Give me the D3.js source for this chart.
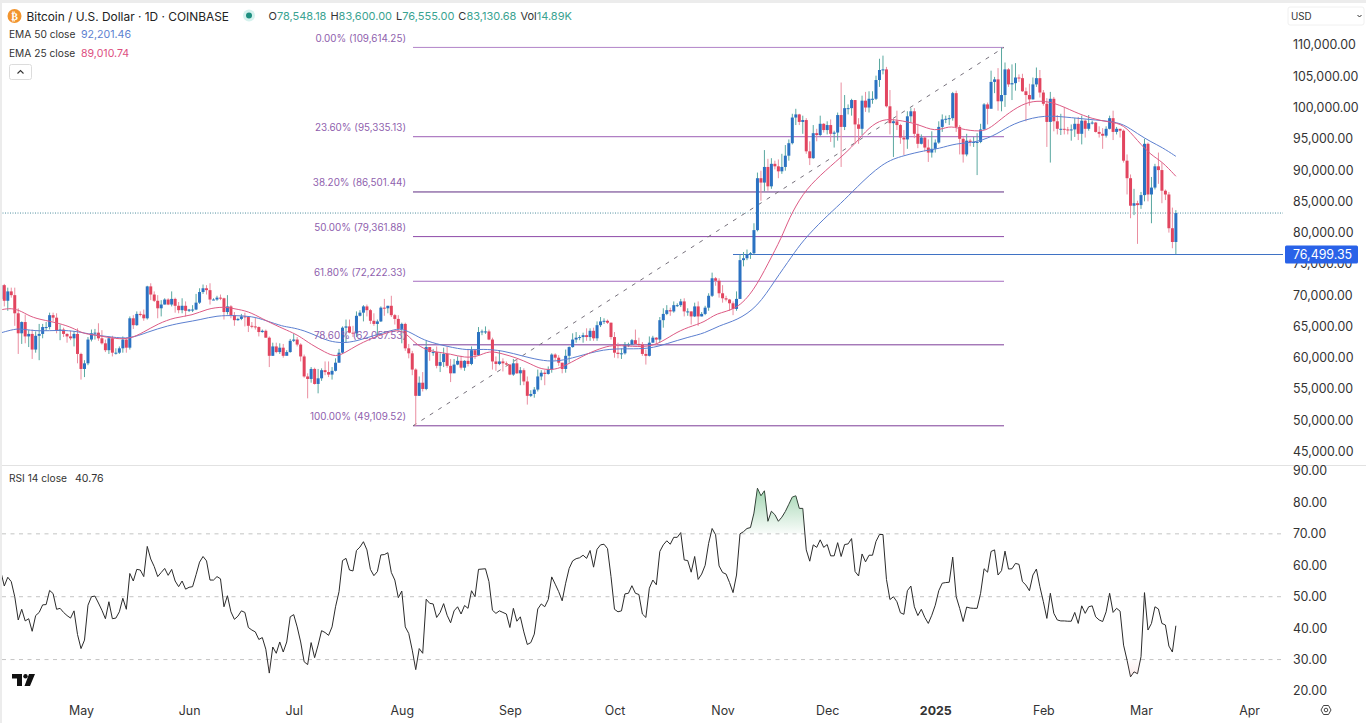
<!DOCTYPE html>
<html lang="en">
<head>
<meta charset="UTF-8">
<title>Bitcoin / U.S. Dollar</title>
<script src="https://d3js.org/d3.v7.min.js"></script>
<style>
  html, body { margin: 0; padding: 0; background: #fff; overflow: hidden; }
  svg { display: block; font-family: Inter, "Noto Sans", sans-serif; }
  .axis text { font-family: Inter, "Noto Sans", sans-serif; font-size: 12.4px; fill: #333; }
  .axis path, .axis line { display: none; }
</style>
</head>
<body>
<svg id="chart" width="1366" height="723"></svg>
<script>
// daily candles in thousands of USD, first row starts 8 Apr 2024
const firstDay = "2024-04-08";
const firstOpen = 69.4;

const closes = [
  71.6, 69.1, 70.6, 70.0, 67.1, 63.9, 65.7, 63.4, 63.8, 61.3, 63.5, 63.8, 64.9, 64.9, 66.8, 66.4, 64.3, 64.5, 63.8, 63.4, 63.1, 63.8, 60.6,
  58.2, 59.1, 62.9, 63.9, 64.0, 63.1, 62.3, 61.2, 63.1, 60.8, 60.8, 61.5, 62.9, 61.6, 66.3, 65.2, 67.0, 66.9, 66.3, 71.4, 70.1, 69.1, 67.9, 68.5, 69.3, 68.5, 69.4, 68.3, 67.6, 68.3, 67.5,
  67.7, 67.7, 68.8, 70.5, 71.1, 70.8, 69.3, 69.3, 69.6, 69.5, 67.3, 68.2, 66.8, 66.0, 66.2, 66.6, 66.5, 65.1, 65.0, 64.9, 64.1, 64.3, 63.2, 60.3, 61.8, 60.9, 61.6, 60.3, 60.9, 62.7,
  62.9, 62.1, 60.2, 57.0, 56.6, 58.2, 55.8, 56.7, 58.0, 57.7, 57.3, 57.9, 59.2, 60.8, 64.8, 65.0, 64.0, 63.9, 66.7, 67.2, 68.2, 67.6, 65.9, 65.4, 65.8, 68.0, 67.9, 68.3, 66.8, 66.2, 64.6,
  65.4, 61.5, 60.7, 58.1, 53.9, 56.0, 55.0, 61.7, 60.9, 60.9, 58.7, 59.3, 60.6, 58.7, 57.5, 58.9, 59.5, 58.4, 59.5, 59.0, 61.2, 60.4, 64.1, 64.2, 64.2, 62.9, 59.4, 59.0, 59.4, 59.1, 58.9,
  57.3, 59.1, 57.5, 58.0, 56.2, 53.9, 54.2, 54.9, 57.0, 57.6, 57.4, 58.1, 60.5, 60.0, 59.2, 58.2, 60.3, 61.7, 62.9, 63.2, 63.3, 63.6, 63.3, 64.3, 63.1, 65.2, 65.8, 65.9, 65.6, 63.3,
  60.8, 60.6, 60.7, 62.1, 62.1, 62.8, 62.2, 62.1, 60.6, 60.3, 62.4, 63.2, 62.9, 66.0, 67.0, 67.6, 67.4, 68.4, 68.4, 69.0, 67.4, 67.4, 66.6, 68.2, 66.6, 67.0, 68.0, 69.9, 72.7, 72.3, 70.3,
  69.5, 69.3, 68.7, 67.8, 69.4, 75.6, 75.9, 76.5, 76.7, 80.4, 88.7, 88.0, 90.5, 87.4, 91.0, 90.6, 89.8, 90.5, 92.3, 94.3, 98.4, 98.9, 97.7, 98.0, 93.0, 91.9, 95.9, 95.6, 97.4, 96.4,
  97.2, 95.8, 96.0, 98.8, 96.9, 99.9, 99.9, 101.2, 97.3, 96.6, 101.1, 100.0, 101.4, 101.4, 104.4, 106.0, 106.1, 100.2, 97.5, 97.8, 97.2, 95.2, 94.9, 98.6, 99.4, 95.8, 94.2, 95.2, 93.6, 92.8, 93.4,
  94.4, 96.9, 98.1, 98.2, 98.3, 102.3, 96.9, 95.0, 92.5, 94.7, 94.5, 94.5, 94.5, 96.5, 100.5, 99.8, 104.1, 104.5, 101.0, 102.0, 106.1, 103.7, 103.9, 104.8, 104.7, 102.6, 102.0, 101.3, 103.7, 104.7, 102.4,
  100.6, 97.7, 101.4, 97.8, 96.6, 96.6, 96.5, 96.4, 96.5, 97.4, 95.8, 97.9, 96.6, 97.5, 97.6, 96.1, 95.8, 95.5, 96.6, 98.3, 96.1, 96.6, 96.3, 91.5, 88.7, 84.3, 84.7, 84.4,
  86.0, 94.2, 86.1, 87.2, 90.6, 90.0, 86.7, 86.1, 80.7, 78.5, 83.13
];

const highs = [
  72.8, 71.8, 71.2, 71.2, 71.2, 67.9, 65.8, 66.9, 64.4, 64.5, 64.2, 65.4, 65.4, 65.7, 67.2, 67.2, 67.1, 65.3, 64.8, 63.9, 64.3, 64.2, 64.7,
  60.8, 59.6, 63.3, 64.5, 64.6, 65.5, 64.4, 62.9, 63.4, 63.5, 61.5, 61.8, 63.4, 63.1, 66.6, 66.8, 67.4, 67.4, 67.7, 71.5, 71.9, 70.6, 70.0, 69.2, 69.5, 69.5, 70.6, 69.6, 68.9, 69.5, 69.0,
  67.8, 68.4, 70.2, 71.1, 71.7, 71.6, 71.9, 69.5, 69.9, 70.1, 69.6, 70.0, 68.4, 67.3, 66.4, 67.0, 67.2, 66.6, 65.7, 66.4, 65.0, 64.5, 64.5, 63.4, 62.4, 62.4, 62.3, 62.2, 61.2, 63.0,
  63.8, 63.3, 62.3, 60.5, 57.5, 58.5, 58.4, 58.2, 58.3, 59.4, 59.4, 58.5, 59.9, 61.4, 65.0, 66.1, 66.1, 65.1, 67.4, 67.6, 68.4, 68.5, 67.8, 67.1, 66.1, 68.2, 69.4, 68.3, 69.9, 67.0, 66.8,
  65.6, 65.6, 62.2, 61.1, 58.3, 57.0, 57.7, 62.7, 61.7, 61.4, 61.8, 60.7, 61.6, 61.8, 59.8, 59.8, 60.2, 60.3, 59.6, 61.4, 61.8, 61.4, 64.9, 64.5, 65.0, 64.5, 63.2, 60.2, 61.2, 59.9, 59.4,
  59.0, 59.8, 59.8, 58.5, 58.3, 57.0, 54.8, 55.3, 58.1, 58.0, 58.0, 58.6, 60.7, 60.7, 60.4, 59.2, 61.3, 61.8, 63.9, 64.1, 63.6, 64.0, 64.7, 64.7, 64.8, 65.8, 66.5, 66.3, 66.1, 65.6,
  64.1, 62.4, 61.5, 62.5, 62.4, 63.0, 64.5, 63.2, 62.5, 61.3, 63.4, 63.5, 63.3, 66.5, 67.9, 68.4, 68.0, 69.0, 68.7, 69.4, 69.5, 67.9, 67.4, 68.8, 69.0, 67.3, 68.3, 70.3, 73.6, 72.9, 72.7,
  71.6, 69.9, 69.4, 69.0, 70.6, 76.5, 76.9, 77.3, 76.9, 81.5, 89.6, 89.9, 93.2, 91.8, 91.9, 91.5, 91.7, 92.6, 94.0, 94.9, 99.0, 99.8, 99.0, 98.7, 98.3, 94.6, 97.2, 96.6, 98.7, 97.5,
  97.8, 98.1, 96.3, 99.2, 104.0, 102.0, 100.5, 101.4, 101.2, 98.3, 101.9, 102.5, 102.6, 102.6, 105.1, 107.8, 108.3, 106.5, 102.8, 98.1, 99.5, 97.4, 96.4, 99.4, 99.9, 99.9, 97.4, 95.7, 95.4, 94.9, 96.2,
  94.9, 97.8, 98.9, 98.7, 98.8, 102.5, 102.7, 97.2, 95.3, 95.8, 95.0, 95.3, 95.9, 97.4, 100.7, 100.8, 105.9, 104.9, 106.3, 109.6, 107.2, 106.3, 106.9, 107.1, 105.3, 105.4, 103.2, 103.8, 104.8, 106.4, 106.0,
  102.8, 101.5, 102.5, 101.7, 98.8, 99.0, 100.1, 96.9, 97.3, 98.3, 98.5, 98.7, 98.1, 98.8, 97.9, 97.7, 97.0, 96.7, 97.0, 98.7, 99.5, 96.9, 96.6, 96.5, 92.5, 89.3, 87.0, 85.1,
  86.5, 95.0, 94.4, 88.9, 91.0, 92.8, 91.2, 86.9, 86.5, 84.0, 83.6
];

const lows = [
  69.0, 68.2, 67.5, 69.6, 65.1, 60.6, 62.2, 62.3, 61.7, 59.8, 60.8, 59.6, 63.1, 64.3, 64.5, 65.8, 63.9, 62.8, 63.3, 62.4, 62.8, 61.8, 59.1,
  56.5, 56.9, 58.8, 62.6, 62.9, 62.7, 62.1, 60.9, 60.6, 60.2, 60.5, 60.6, 60.8, 60.8, 61.3, 64.6, 65.1, 66.6, 65.9, 66.1, 69.2, 68.9, 66.3, 66.6, 68.5, 68.4, 68.2, 67.2, 67.1, 67.1, 66.6,
  67.3, 67.3, 67.6, 68.6, 70.2, 70.1, 68.5, 69.2, 69.1, 69.2, 66.1, 66.9, 66.3, 65.1, 65.9, 66.0, 65.0, 64.1, 64.7, 64.5, 63.4, 64.0, 63.2, 58.5, 60.3, 60.7, 60.6, 60.0, 60.4, 60.8,
  62.5, 61.8, 59.4, 56.8, 53.5, 56.0, 55.7, 54.3, 56.3, 57.2, 56.9, 56.5, 57.8, 59.2, 60.6, 62.4, 63.9, 63.3, 63.3, 66.6, 65.8, 66.6, 65.4, 65.1, 63.4, 65.7, 66.7, 67.1, 66.5, 65.3, 64.5,
  62.3, 61.1, 59.9, 57.2, 49.1, 53.9, 54.6, 54.8, 59.5, 60.3, 58.3, 57.7, 58.5, 58.4, 56.1, 57.8, 58.8, 58.1, 57.9, 58.6, 58.8, 59.8, 60.4, 63.6, 63.8, 62.8, 58.1, 57.9, 58.8, 57.8, 58.7,
  57.2, 57.1, 57.4, 55.6, 55.6, 52.5, 53.7, 53.6, 54.6, 56.4, 55.6, 57.3, 57.6, 59.5, 58.7, 57.5, 57.6, 59.2, 61.6, 62.4, 62.8, 62.4, 62.7, 62.7, 62.7, 62.7, 64.9, 65.4, 65.4, 62.9,
  60.0, 59.9, 59.8, 60.5, 61.7, 62.0, 62.1, 61.8, 60.3, 58.9, 60.2, 62.4, 62.0, 62.4, 64.8, 66.8, 66.7, 67.2, 68.1, 68.1, 66.6, 66.7, 65.3, 66.5, 65.1, 66.6, 66.8, 67.5, 69.7, 71.5, 69.6,
  68.8, 69.0, 67.5, 66.8, 67.5, 69.4, 74.6, 75.6, 75.8, 76.5, 80.2, 85.1, 86.6, 86.7, 87.0, 90.1, 88.7, 89.4, 89.9, 91.5, 94.1, 97.2, 97.2, 95.8, 92.6, 90.8, 91.8, 94.6, 95.4, 96.0,
  95.7, 94.5, 93.6, 94.7, 90.5, 96.4, 98.9, 98.7, 94.2, 94.2, 95.6, 99.3, 99.2, 100.6, 101.2, 103.3, 105.3, 100.0, 95.7, 92.1, 96.4, 94.2, 92.4, 93.4, 97.6, 95.1, 93.5, 94.1, 93.0, 91.3, 92.0,
  92.8, 94.2, 96.1, 97.5, 97.2, 97.9, 96.1, 92.5, 91.2, 92.2, 93.8, 93.7, 89.2, 94.3, 96.5, 97.3, 99.9, 102.3, 99.5, 99.4, 100.1, 103.3, 101.2, 102.7, 104.1, 102.5, 97.8, 100.3, 101.3, 103.3, 101.6,
  100.3, 93.7, 91.2, 96.2, 95.7, 95.6, 95.7, 95.7, 94.7, 95.3, 94.8, 94.1, 95.2, 96.3, 97.3, 96.0, 95.2, 93.4, 95.2, 96.5, 94.8, 95.7, 95.2, 91.2, 86.1, 82.3, 82.8, 78.2,
  83.8, 85.0, 85.0, 81.5, 86.9, 87.8, 84.7, 85.2, 80.0, 77.5, 76.56
];

const rsiValues = [
  58.0, 53.4, 56.2, 54.8, 50.0, 42.6, 46.0, 42.3, 43.0, 39.0, 44.0, 45.0, 47.4, 47.5, 52.0, 51.0, 46.0, 46.3, 45.0, 44.0, 43.2, 45.5, 38.0,
  33.5, 36.2, 47.3, 50.0, 50.2, 48.0, 45.7, 43.0, 48.4, 43.0, 43.2, 45.2, 49.5, 46.0, 57.4, 55.0, 58.7, 58.5, 56.4, 66.0, 62.0, 59.6, 56.4, 57.7, 59.0, 56.8, 58.7, 55.0, 53.2, 55.0, 52.4,
  53.0, 53.2, 57.0, 61.0, 62.8, 61.4, 55.3, 55.3, 56.4, 55.7, 46.8, 50.3, 45.2, 42.8, 43.8, 45.5, 45.0, 40.2, 39.4, 38.8, 36.4, 37.0, 33.3, 25.7, 34.0, 32.0, 35.6, 32.4, 35.6, 43.6,
  44.3, 40.4, 35.6, 29.3, 28.4, 35.4, 30.6, 34.6, 39.2, 38.6, 37.7, 40.4, 46.8, 51.6, 61.5, 62.2, 58.5, 58.2, 64.7, 65.8, 67.5, 64.9, 58.7, 56.7, 58.0, 63.3, 63.4, 64.0, 57.7, 55.3, 49.7,
  51.8, 40.4, 38.3, 33.0, 26.8, 33.5, 32.0, 49.2, 47.9, 47.7, 43.4, 45.0, 47.8, 44.1, 41.7, 45.5, 46.8, 44.5, 47.2, 46.3, 51.9, 50.0, 58.7, 58.8, 58.9, 54.8, 45.7, 44.7, 45.5, 45.0, 44.5,
  40.2, 46.3, 42.2, 43.6, 38.8, 34.8, 35.4, 38.1, 46.1, 47.7, 46.8, 49.1, 56.3, 54.0, 51.6, 48.7, 54.3, 59.0, 61.4, 62.1, 62.4, 63.2, 62.2, 64.7, 59.4, 65.1, 66.5, 66.7, 65.3, 56.4,
  46.0, 45.2, 45.5, 50.9, 51.1, 53.5, 51.1, 50.7, 44.5, 43.4, 52.7, 55.3, 53.8, 64.4, 66.5, 67.8, 66.7, 68.9, 68.9, 70.4, 61.7, 61.5, 57.8, 62.8, 55.5, 57.2, 60.0, 67.0, 71.7, 69.7, 59.8,
  57.7, 57.2, 54.5, 51.3, 56.9, 70.0, 70.7, 71.7, 72.0, 76.6, 84.5, 82.1, 83.7, 74.0, 77.2, 76.1, 74.0, 75.3, 77.1, 79.4, 81.7, 82.1, 78.1, 78.1, 64.9, 61.3, 66.5, 65.7, 68.1, 65.7,
  66.6, 63.0, 63.0, 67.2, 62.8, 66.6, 66.8, 68.5, 58.0, 56.6, 63.6, 61.1, 63.2, 63.2, 67.6, 69.8, 69.8, 55.5, 49.1, 50.0, 48.4, 44.9, 44.4, 51.9, 53.4, 46.8, 44.0, 46.0, 43.4, 41.5, 44.1,
  47.3, 51.9, 54.3, 54.5, 54.6, 62.6, 50.0, 46.3, 42.1, 46.7, 46.4, 46.3, 46.3, 51.1, 58.9, 57.8, 64.4, 64.9, 56.9, 58.3, 64.5, 58.8, 58.9, 60.6, 60.3, 54.8, 53.7, 51.9, 56.9, 58.8, 53.2,
  48.4, 43.1, 51.1, 44.7, 42.6, 42.3, 42.3, 42.2, 42.2, 45.0, 41.5, 47.1, 44.7, 46.8, 47.1, 43.6, 42.6, 42.1, 45.2, 51.1, 45.0, 46.3, 45.4, 34.6, 29.8, 24.5, 26.1, 25.5,
  30.9, 51.3, 39.4, 41.5, 46.8, 46.1, 41.5, 41.0, 34.3, 32.4, 40.76
];

// EMA lines at these candle indexes
const ema25Index = [0, 3, 6, 9, 14, 19, 22, 24, 28, 33, 37, 41, 45, 50, 55, 59, 64, 67, 71, 75, 80, 84, 86, 89, 93, 96, 99, 102, 106, 111, 115, 118, 121, 125, 129, 133, 137, 140, 144, 148, 152, 155, 159, 162, 168, 173, 176, 183, 188, 193, 197, 202, 205, 211, 216, 220, 224, 226, 230, 235, 241, 245, 249, 253, 257, 263, 268, 272, 275, 281, 284, 288, 293, 297, 302, 308, 313, 318, 322, 326, 330, 333, 337];
const ema25Values = [67.65, 67.97, 67.44, 66.37, 65.84, 65.15, 64.35, 63.81, 63.55, 63.0, 63.0, 64.08, 65.41, 66.48, 66.74, 67.81, 68.18, 67.81, 67.44, 66.21, 64.88, 63.92, 63.3, 62.11, 60.88, 60.08, 60.88, 61.95, 63.01, 64.08, 64.61, 62.75, 61.41, 60.88, 60.61, 59.97, 60.19, 61.15, 60.61, 59.97, 59.0, 58.11, 58.06, 58.75, 60.62, 61.69, 62.06, 61.69, 61.95, 63.82, 64.88, 65.68, 67.12, 67.66, 70.75, 75.01, 79.27, 82.2, 86.3, 89.2, 92.07, 94.2, 96.86, 98.2, 98.03, 97.4, 96.06, 97.13, 96.6, 96.06, 96.76, 98.73, 100.59, 101.13, 100.86, 99.26, 98.19, 97.66, 97.38, 94.67, 92.33, 91.4, 89.01];

const ema50Index = [0, 4, 6, 11, 17, 22, 26, 32, 37, 42, 48, 53, 57, 62, 67, 72, 76, 81, 83, 87, 91, 94, 98, 102, 107, 112, 115, 119, 122, 128, 134, 138, 144, 150, 156, 160, 165, 173, 180, 186, 191, 197, 202, 206, 211, 217, 222, 227, 230, 236, 241, 245, 253, 259, 265, 269, 274, 280, 286, 290, 298, 304, 310, 318, 322, 326, 330, 333, 337];
const ema50Values = [63.97, 64.6, 64.6, 64.19, 64.45, 64.19, 63.7, 63.28, 63.0, 64.08, 65.15, 65.68, 66.05, 66.74, 66.74, 66.64, 65.95, 64.98, 64.88, 64.35, 63.39, 62.64, 62.32, 62.64, 63.55, 64.35, 64.77, 63.55, 62.64, 61.79, 61.15, 61.41, 61.15, 60.19, 59.44, 59.44, 60.09, 61.42, 61.42, 61.42, 62.22, 63.28, 63.92, 65.15, 65.95, 68.08, 72.35, 76.3, 78.7, 82.2, 84.7, 87.0, 91.26, 92.33, 93.13, 93.4, 94.3, 94.4, 95.8, 97.39, 98.73, 98.57, 98.2, 97.82, 97.38, 95.8, 94.46, 93.66, 92.2];

const fibPrices = [109.61425, 95.33513, 86.50144, 79.36188, 72.22233, 62.05753, 49.10952];
const fibLabels = ["0.00% (109,614.25)", "23.60% (95,335.13)", "38.20% (86,501.44)", "50.00% (79,361.88)", "61.80% (72,222.33)", "78.60% (62,057.53)", "100.00% (49,109.52)"];
const fibColors = ["#b184c9", "#9c5fb5", "#5f2c82", "#8e4aa8", "#a56cc0", "#7d3c98", "#7d3c98"];

const priceTicks = [45, 50, 55, 60, 65, 70, 75, 80, 85, 90, 95, 100, 105, 110];
const rsiTicks = [20, 30, 40, 50, 60, 70, 80, 90];
const rsiLevels = [70, 50, 30];
const monthTicks = ["2024-05-01", "2024-06-01", "2024-07-01", "2024-08-01", "2024-09-01", "2024-10-01", "2024-11-01", "2024-12-01", "2025-01-01", "2025-02-01", "2025-03-01", "2025-04-01"];

const lastClose = 83.13068;
const supportLevel = 76.49935;

const svg = d3.select("#chart");
const parseDay = d3.utcParse("%Y-%m-%d");
const days = closes.map((_, i) => d3.utcDay.offset(parseDay(firstDay), i));

// scales
const x = d3.scaleUtc()
  .domain([parseDay("2024-05-01"), parseDay("2025-03-01")])
  .range([81, 1141]);
const y = d3.scaleLinear().domain([45, 110]).range([451.5, 45]);
const yRsi = d3.scaleLinear().domain([20, 90]).range([691, 471]);

const candles = closes.map((c, i) => ({
  day: days[i],
  open: i === 0 ? firstOpen : closes[i - 1],
  close: c,
  high: highs[i],
  low: lows[i]
}));

const defs = svg.append("defs");
defs.append("clipPath").attr("id", "plot")
  .append("rect").attr("x", 2).attr("y", 2).attr("width", 1281).attr("height", 720);
defs.append("clipPath").attr("id", "above70")
  .append("rect").attr("x", 0).attr("y", 466).attr("width", 1283).attr("height", yRsi(70) - 466);
defs.append("clipPath").attr("id", "below30")
  .append("rect").attr("x", 0).attr("y", yRsi(30)).attr("width", 1283).attr("height", 40);

// fills fade out toward the 70 and 30 levels
const green = defs.append("linearGradient").attr("id", "greenFill")
  .attr("gradientUnits", "userSpaceOnUse").attr("x1", 0).attr("x2", 0).attr("y1", yRsi(84)).attr("y2", yRsi(70));
green.append("stop").attr("offset", "0%").attr("stop-color", "#4caf6a").attr("stop-opacity", 0.5);
green.append("stop").attr("offset", "100%").attr("stop-color", "#4caf6a").attr("stop-opacity", 0.03);
const pink = defs.append("linearGradient").attr("id", "pinkFill")
  .attr("gradientUnits", "userSpaceOnUse").attr("x1", 0).attr("x2", 0).attr("y1", yRsi(30)).attr("y2", yRsi(24));
pink.append("stop").attr("offset", "0%").attr("stop-color", "#ef9a9a").attr("stop-opacity", 0.02);
pink.append("stop").attr("offset", "100%").attr("stop-color", "#ef9a9a").attr("stop-opacity", 0.22);

const plot = svg.append("g").attr("clip-path", "url(#plot)");

// last price dotted line
plot.append("line")
  .attr("x1", 0).attr("x2", 1283)
  .attr("y1", y(lastClose)).attr("y2", y(lastClose))
  .attr("stroke", "#4f8f9f").attr("stroke-width", 1).attr("stroke-dasharray", "1 1.5");

// fib retracement
plot.selectAll(".fib").data(fibPrices).enter().append("line")
  .attr("x1", 413).attr("x2", 1004)
  .attr("y1", d => y(d)).attr("y2", d => y(d))
  .attr("stroke", (d, i) => fibColors[i]).attr("stroke-width", 1);

plot.append("line")
  .attr("x1", 413).attr("y1", y(fibPrices[6]))
  .attr("x2", 1004).attr("y2", y(fibPrices[0]))
  .attr("stroke", "#77717c").attr("stroke-width", 1).attr("stroke-dasharray", "4 6");

svg.selectAll(".fibLabel").data(fibLabels).enter().append("text")
  .attr("x", 406)
  .attr("y", (d, i) => y(fibPrices[i]) - 5.5)
  .attr("text-anchor", "end")
  .attr("font-size", 9.9)
  .attr("fill", "#8f5fae")
  .text(d => d);

// support line
plot.append("line")
  .attr("x1", 733).attr("x2", 1285)
  .attr("y1", y(supportLevel)).attr("y2", y(supportLevel))
  .attr("stroke", "#3f72c4").attr("stroke-width", 1.2);

// candles
const candle = plot.selectAll(".candle").data(candles).enter().append("g");
candle.append("line")
  .attr("x1", d => x(d.day)).attr("x2", d => x(d.day))
  .attr("y1", d => y(d.high)).attr("y2", d => y(d.low))
  .attr("stroke", d => d.close >= d.open ? "#5aa8a0" : "#ea8ea0")
  .attr("stroke-width", 1);
candle.append("rect")
  .attr("x", d => x(d.day) - 1.5)
  .attr("width", 3)
  .attr("y", d => y(Math.max(d.open, d.close)))
  .attr("height", d => Math.max(1, Math.abs(y(d.open) - y(d.close))))
  .attr("fill", d => d.close >= d.open ? "#2b72c2" : "#e2455f");

// EMA lines
const emaLine = d3.line()
  .x(d => x(days[d.i]))
  .y(d => y(d.v))
  .curve(d3.curveBasis);
plot.append("path")
  .attr("d", emaLine(ema50Index.map((i, k) => ({ i, v: ema50Values[k] }))))
  .attr("fill", "none").attr("stroke", "#5c7fd0").attr("stroke-width", 1);
plot.append("path")
  .attr("d", emaLine(ema25Index.map((i, k) => ({ i, v: ema25Values[k] }))))
  .attr("fill", "none").attr("stroke", "#dd5a84").attr("stroke-width", 1);

// price axis
svg.append("g").attr("class", "axis")
  .attr("transform", "translate(1284,0)")
  .call(d3.axisRight(y).tickValues(priceTicks).tickSize(0).tickPadding(9)
    .tickFormat(d => d3.format(",.2f")(d * 1000)));

// support price tag
svg.append("rect")
  .attr("x", 1285).attr("y", y(supportLevel) - 9)
  .attr("width", 73).attr("height", 18).attr("rx", 1.5)
  .attr("fill", "#2962e8");
svg.append("text")
  .attr("x", 1293).attr("y", y(supportLevel) + 4.5)
  .attr("font-size", 12.4).attr("fill", "#fff")
  .text(d3.format(",.2f")(supportLevel * 1000));

// RSI pane
svg.append("line")
  .attr("x1", 0).attr("x2", 1366).attr("y1", 465.5).attr("y2", 465.5)
  .attr("stroke", "#e2e2e2");

plot.selectAll(".level").data(rsiLevels).enter().append("line")
  .attr("x1", 2).attr("x2", 1283)
  .attr("y1", d => yRsi(d)).attr("y2", d => yRsi(d))
  .attr("stroke", "#c4c4c4").attr("stroke-width", 1).attr("stroke-dasharray", "4 4.5");

const rsiPoints = rsiValues.map((v, i) => ({ i, v }));
const rsiAreaAbove = d3.area().x(d => x(days[d.i])).y0(yRsi(70)).y1(d => yRsi(d.v));
const rsiAreaBelow = d3.area().x(d => x(days[d.i])).y0(yRsi(30)).y1(d => yRsi(d.v));
svg.append("path").attr("clip-path", "url(#above70)")
  .attr("d", rsiAreaAbove(rsiPoints)).attr("fill", "url(#greenFill)");
svg.append("path").attr("clip-path", "url(#below30)")
  .attr("d", rsiAreaBelow(rsiPoints)).attr("fill", "url(#pinkFill)");

plot.append("path")
  .attr("d", d3.line().x(d => x(days[d.i])).y(d => yRsi(d.v))(rsiPoints))
  .attr("fill", "none").attr("stroke", "#2b2b2b").attr("stroke-width", 1);

svg.append("g").attr("class", "axis")
  .attr("transform", "translate(1284,0)")
  .call(d3.axisRight(yRsi).tickValues(rsiTicks).tickSize(0).tickPadding(9)
    .tickFormat(d3.format(".2f")));

// time axis
svg.append("g").attr("class", "axis")
  .attr("transform", "translate(0,700)")
  .call(d3.axisBottom(x).tickValues(monthTicks.map(parseDay)).tickSize(0).tickPadding(6)
    .tickFormat(d => d.getUTCMonth() === 0 ? "2025" : d3.utcFormat("%b")(d)))
  .selectAll("text")
  .style("font-weight", d => d.getUTCMonth() === 0 ? 700 : 400);

// window edges
svg.append("rect").attr("x", 0).attr("y", 0).attr("width", 1366).attr("height", 3).attr("fill", "#ececec");
svg.append("rect").attr("x", 0).attr("y", 0).attr("width", 2).attr("height", 723).attr("fill", "#ececec");

// header
svg.append("circle").attr("cx", 14.5).attr("cy", 16).attr("r", 7).attr("fill", "#f2952f");
svg.append("text").attr("x", 14.5).attr("y", 19.6).attr("text-anchor", "middle")
  .attr("font-size", 10).attr("font-weight", 700).attr("fill", "#fff")
  .style("font-family", "'DejaVu Sans'").text("₿");
svg.append("text").attr("x", 26.5).attr("y", 20.5).attr("font-size", 11.9).attr("fill", "#222")
  .text("Bitcoin / U.S. Dollar · 1D · COINBASE");
svg.append("circle").attr("cx", 249).attr("cy", 15.5).attr("r", 6).attr("fill", "#d5f2ee");
svg.append("circle").attr("cx", 249).attr("cy", 15.5).attr("r", 3).attr("fill", "#1e8f80");

const ohlcLabels = ["O", "H", "L", "C", "Vol"];
const ohlcValues = ["78,548.18", "83,600.00", "76,555.00", "83,130.68", "14.89K"];
const ohlc = svg.append("text").attr("x", 268.5).attr("y", 20).attr("font-size", 11);
ohlcLabels.forEach((label, i) => {
  ohlc.append("tspan").attr("fill", "#333").attr("dx", i ? 4 : 0).text(label);
  ohlc.append("tspan").attr("fill", "#3aa391").text(ohlcValues[i]);
});

const legendRows = [
  { y: 38, name: "EMA 50 close", value: "92,201.46", color: "#5c7fd0" },
  { y: 57, name: "EMA 25 close", value: "89,010.74", color: "#dd4f7f" }
];
legendRows.forEach(r => {
  svg.append("text").attr("x", 9).attr("y", r.y).attr("font-size", 10.2).attr("fill", "#333").text(r.name);
  svg.append("text").attr("x", 81).attr("y", r.y).attr("font-size", 10.6).attr("fill", r.color).text(r.value);
});
svg.append("rect").attr("x", 9.5).attr("y", 64.5).attr("width", 22).attr("height", 15).attr("rx", 2)
  .attr("fill", "#fff").attr("stroke", "#dcdcdc");
svg.append("path").attr("d", "M17.5 73.5 L20.5 70.5 L23.5 73.5").attr("fill", "none").attr("stroke", "#333").attr("stroke-width", 1.1);

svg.append("text").attr("x", 9).attr("y", 482).attr("font-size", 10.2).attr("fill", "#333").text("RSI 14 close");
svg.append("text").attr("x", 75).attr("y", 482).attr("font-size", 10.6).attr("fill", "#333").text("40.76");

// currency selector
svg.append("rect").attr("x", 1288).attr("y", 7).attr("width", 76).attr("height", 18).attr("rx", 2)
  .attr("fill", "#fff").attr("stroke", "#f0f0f0");
svg.append("text").attr("x", 1291).attr("y", 20).attr("font-size", 9.8).attr("fill", "#333").text("USD");
svg.append("path").attr("d", "M1357.5 15 L1359.5 17 L1361.5 15").attr("fill", "none").attr("stroke", "#333").attr("stroke-width", 1);

// TradingView mark
svg.append("path").attr("fill", "#111")
  .attr("d", "M12 674 H22 V686 H17 V678.5 H12 Z M29 674 H35 L30 686 H24.5 Z");
svg.append("circle").attr("cx", 25.5).attr("cy", 676.2).attr("r", 2.2).attr("fill", "#111");

// settings icon
svg.append("path").attr("fill", "none").attr("stroke", "#444").attr("stroke-width", 1)
  .attr("d", "M1321 710 L1323.5 705.5 H1328.5 L1331 710 L1328.5 714.5 H1323.5 Z");
svg.append("circle").attr("cx", 1326).attr("cy", 710).attr("r", 1.8).attr("fill", "none").attr("stroke", "#444");
</script>
</body>
</html>
